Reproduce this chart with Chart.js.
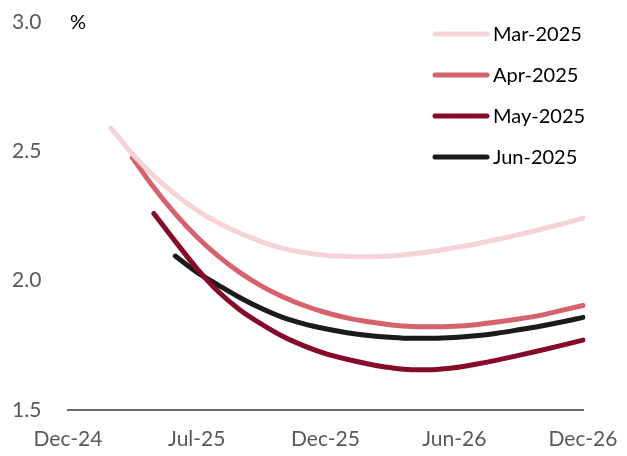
<!DOCTYPE html>
<html>
<head>
<meta charset="utf-8">
<script src="https://cdn.jsdelivr.net/npm/chart.js@4"></script>
<style>
  html, body { margin: 0; padding: 0; background: #fff; }
  #wrap { width: 627px; height: 456px; }
</style>
</head>
<body>
<div id="wrap"><canvas id="lineChart" width="627" height="456"></canvas></div>
<script>
// monthly points, Dec-24 .. Dec-26
const months = ['Dec-24','Jan-25','Feb-25','Mar-25','Apr-25','May-25','Jun-25','Jul-25','Aug-25','Sep-25','Oct-25','Nov-25','Dec-25',
  'Jan-26','Feb-26','Mar-26','Apr-26','May-26','Jun-26','Jul-26','Aug-26','Sep-26','Oct-26','Nov-26','Dec-26'];
const shownTicks = ['Dec-24', 'Jul-25', 'Dec-25', 'Jun-26', 'Dec-26'];
const yTicks = [1.5, 2.0, 2.5, 3.0];

const seriesNames = ['Mar-2025', 'Apr-2025', 'May-2025', 'Jun-2025'];
const seriesColors = ['#f4d3d9', '#d6626e', '#860b2b', '#1b1b1b'];

const mar25 = [null, null, 2.59, 2.49, 2.405, 2.333, 2.273, 2.224, 2.184, 2.151, 2.125, 2.109, 2.098,
  2.093, 2.092, 2.095, 2.103, 2.114, 2.127, 2.142, 2.159, 2.178, 2.198, 2.219, 2.242];
const apr25 = [null, null, null, 2.475, 2.36, 2.258, 2.17, 2.095, 2.032, 1.98, 1.938, 1.904, 1.877,
  1.856, 1.841, 1.83, 1.823, 1.822, 1.824, 1.83, 1.84, 1.852, 1.866, 1.885, 1.904];
const may25 = [null, null, null, null, 2.26, 2.152, 2.048, 1.958, 1.888, 1.833, 1.785, 1.748, 1.718,
  1.696, 1.678, 1.664, 1.656, 1.656, 1.663, 1.677, 1.693, 1.711, 1.73, 1.75, 1.77];
const jun25 = [null, null, null, null, null, 2.095, 2.033, 1.983, 1.935, 1.893, 1.858, 1.833, 1.814,
  1.799, 1.788, 1.781, 1.777, 1.777, 1.78, 1.787, 1.797, 1.81, 1.824, 1.84, 1.858];

const FONT = 'Lato, "Open Sans", sans-serif';

// legend stacked in the top right corner + the "%" unit label
const sideLegend = {
  id: 'sideLegend',
  afterDraw(chart) {
    const c = chart.ctx;
    const area = chart.chartArea;
    c.save();
    c.font = '20px ' + FONT;
    c.fillStyle = '#000';
    c.textBaseline = 'middle';
    c.fillText('%', area.left + 2, area.top + 1);
    chart.data.datasets.forEach((ds, i) => {
      const y = 34 + i * 41;
      c.strokeStyle = ds.borderColor;
      c.lineWidth = 5;
      c.lineCap = 'round';
      c.beginPath();
      c.moveTo(435, y);
      c.lineTo(487, y);
      c.stroke();
      c.fillStyle = '#000';
      c.textAlign = 'left';
      c.fillText(ds.label, 493, y + 1);
    });
    c.restore();
  }
};

const allSeries = [mar25, apr25, may25, jun25];

new Chart(document.getElementById('lineChart').getContext('2d'), {
  type: 'line',
  data: {
    labels: months,
    datasets: allSeries.map((vals, i) => ({
      label: seriesNames[i],
      data: vals,
      borderColor: seriesColors[i],
      borderWidth: 5,
      borderCapStyle: 'round',
      borderJoinStyle: 'round',
      cubicInterpolationMode: 'monotone',
      pointRadius: 0,
      fill: false
    }))
  },
  options: {
    responsive: false,
    animation: false,
    layout: { padding: { top: 22, right: 44, left: 12, bottom: 0 } },
    plugins: { legend: { display: false }, tooltip: { enabled: false } },
    scales: {
      x: {
        grid: { display: false, drawTicks: false },
        border: { display: true, color: '#6a6a6a', width: 2 },
        ticks: {
          autoSkip: false,
          maxRotation: 0,
          padding: 17,
          color: '#595959',
          font: { family: FONT, size: 21 },
          callback: (v, i) => (i % 6 === 0 ? shownTicks[i / 6] : null)
        },
        afterFit: s => { s.height = 46; s.paddingLeft = 0; s.paddingRight = 0; }
      },
      y: {
        min: 1.5,
        max: 3.0,
        grid: { display: false, drawTicks: false },
        border: { display: false },
        afterBuildTicks: s => { s.ticks = yTicks.map(v => ({ value: v })); },
        ticks: {
          crossAlign: 'far',
          color: '#595959',
          font: { family: FONT, size: 21 },
          callback: v => v.toFixed(1)
        },
        afterFit: s => { s.width = 56; s.paddingTop = 0; s.paddingBottom = 0; }
      }
    }
  },
  plugins: [sideLegend]
});
</script>
</body>
</html>
